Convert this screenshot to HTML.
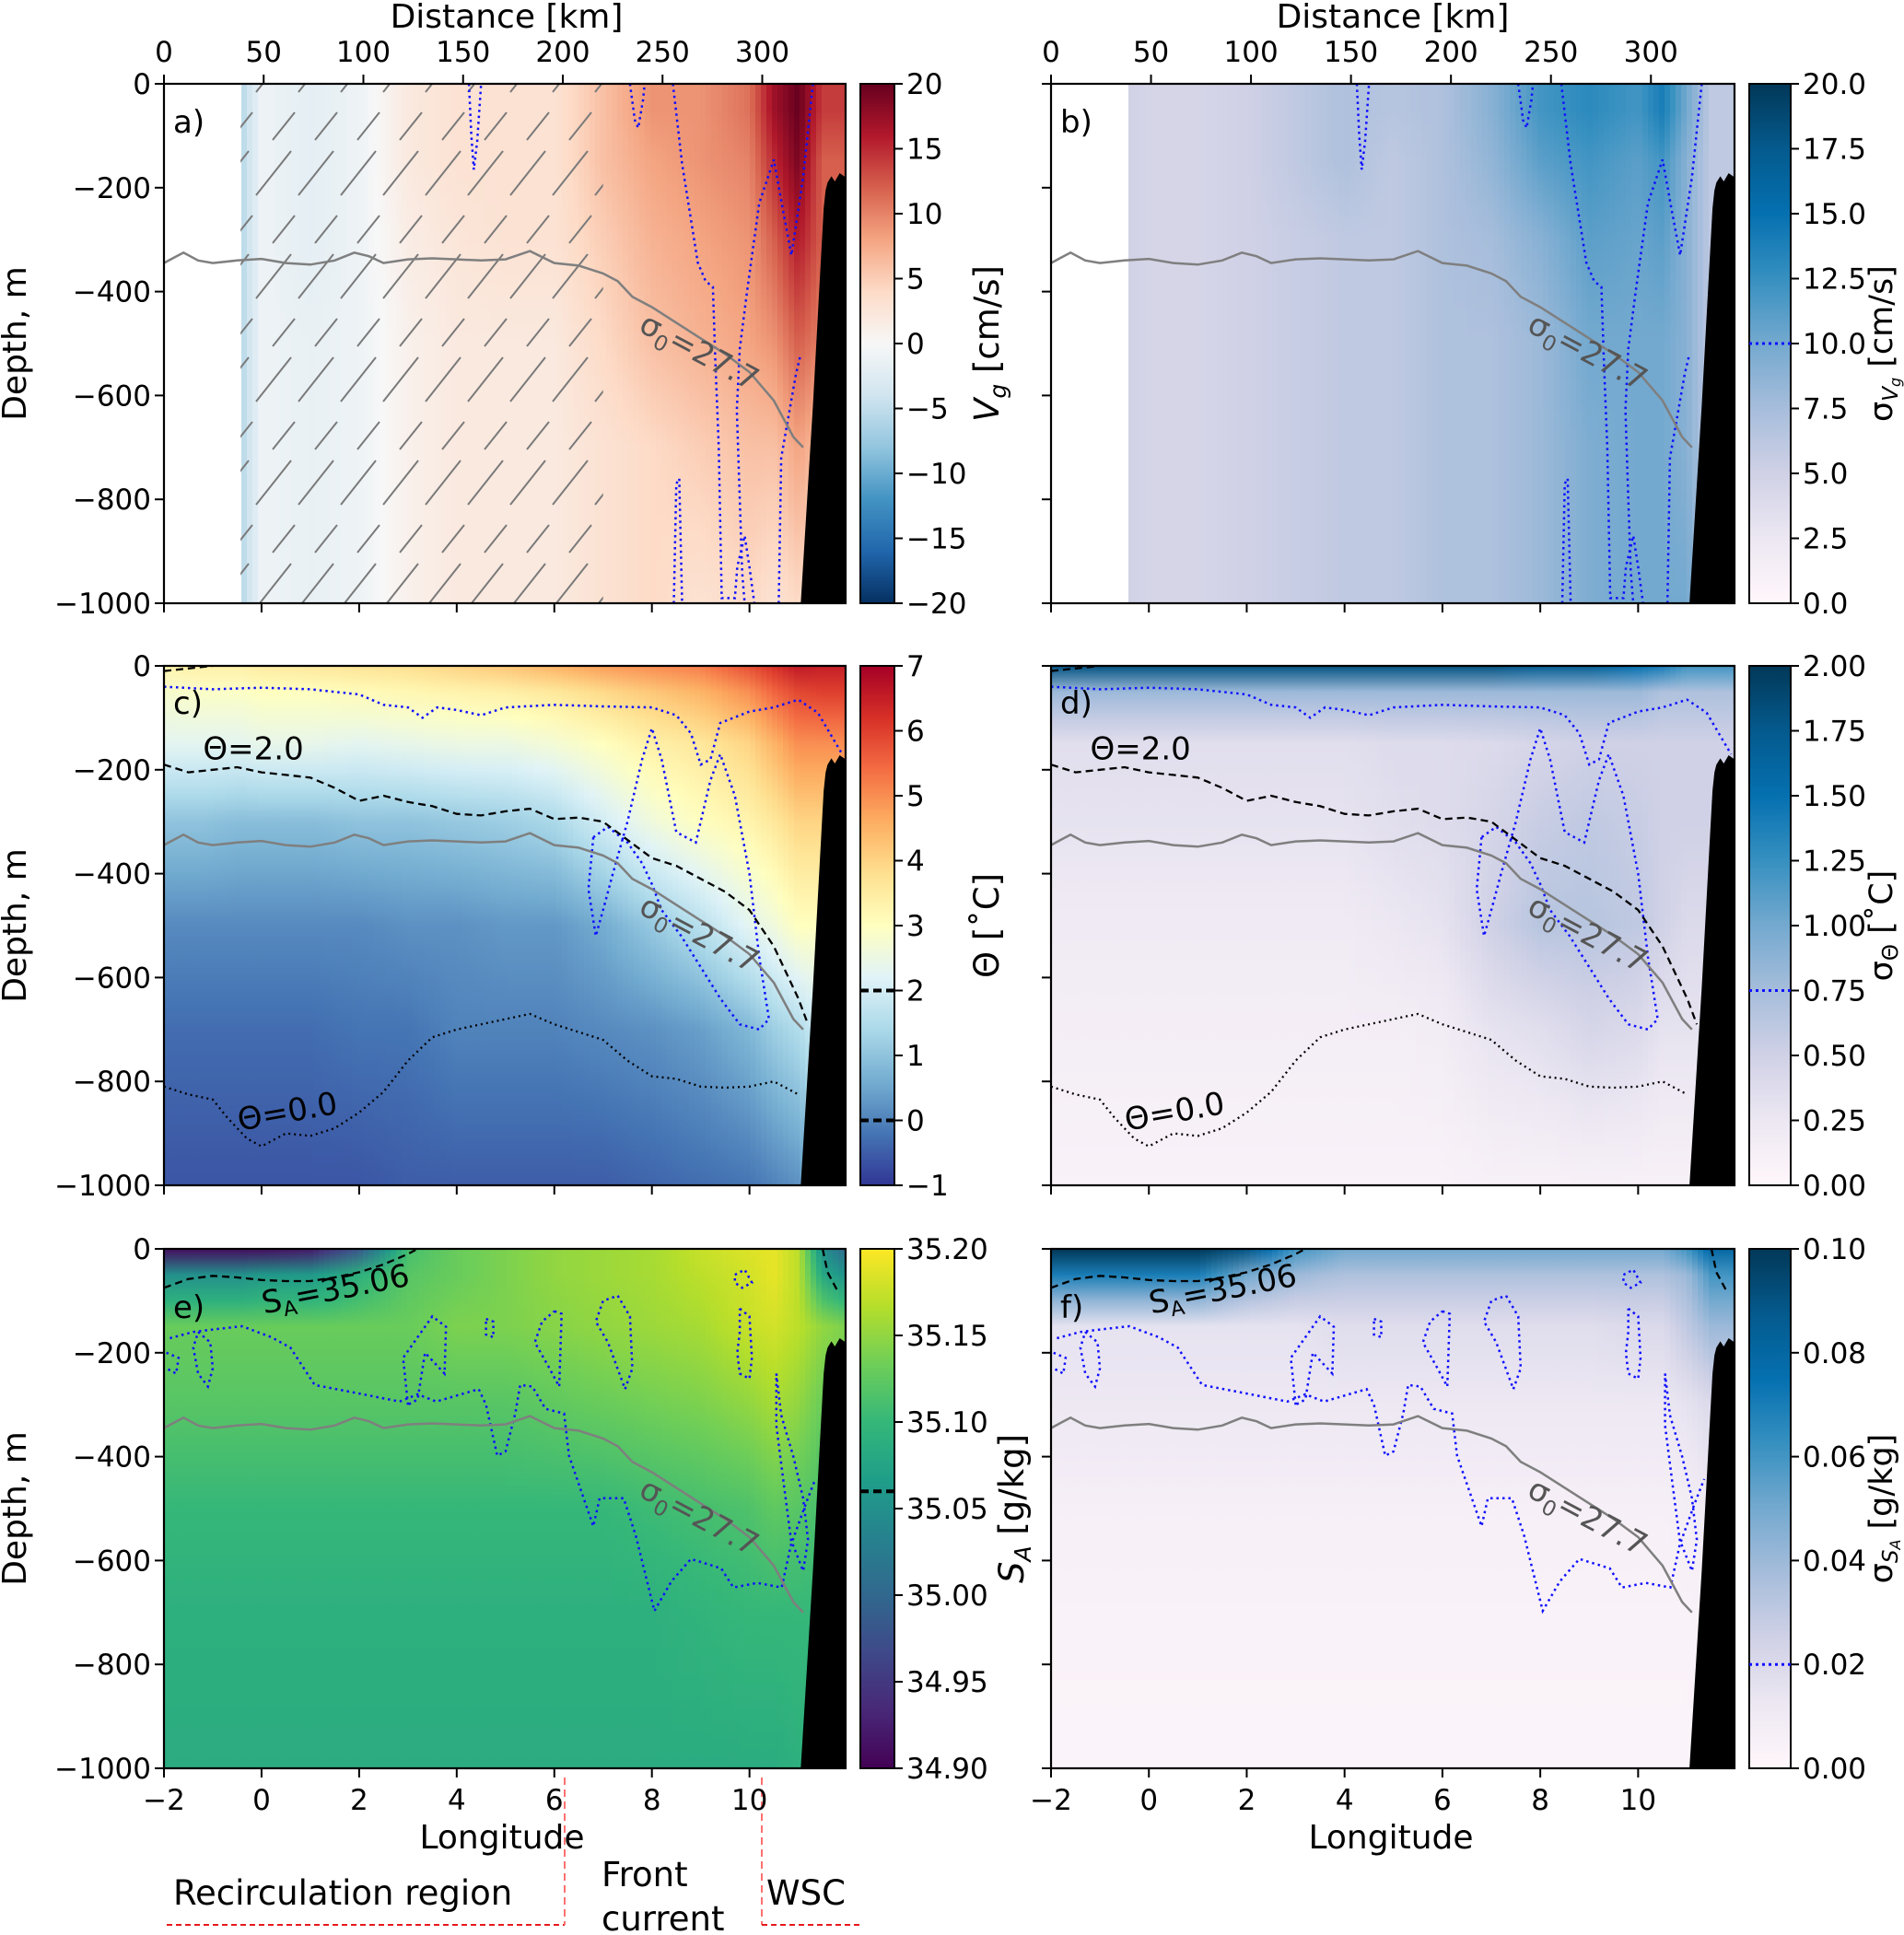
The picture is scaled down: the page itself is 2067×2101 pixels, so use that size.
<!DOCTYPE html>
<html><head><meta charset="utf-8">
<style>
html,body{margin:0;padding:0;background:#fff;}
svg{display:block;font-family:"DejaVu Sans","Liberation Sans",sans-serif;}
</style></head>
<body>
<svg id="fig" xmlns="http://www.w3.org/2000/svg" width="2067" height="2101" viewBox="0 0 2067 2101">
<defs id="defs">
<pattern id="hatch" patternUnits="userSpaceOnUse" width="46" height="112">
<line x1="2" y1="100" x2="40" y2="52" stroke="#7a7a7a" stroke-width="2"/>
<line x1="20" y1="40" x2="44" y2="10" stroke="#7a7a7a" stroke-width="2"/>
</pattern>
</defs>
<text x="550" y="30" font-size="36" text-anchor="middle">Distance [km]</text>
<text x="1512" y="30" font-size="36" text-anchor="middle">Distance [km]</text>
<text x="545" y="2007" font-size="36" text-anchor="middle">Longitude</text>
<text x="1510" y="2007" font-size="36" text-anchor="middle">Longitude</text>
<g>
<text x="188" y="2068" font-size="37">Recirculation region</text>
<text x="653" y="2048" font-size="37">Front</text>
<text x="653" y="2096" font-size="37">current</text>
<text x="832" y="2068" font-size="37">WSC</text>
<line x1="181" y1="2090" x2="613" y2="2090" stroke="#e8191d" stroke-width="2" stroke-dasharray="6,4"/>
<line x1="613" y1="1930" x2="613" y2="2090" stroke="#ff7070" stroke-width="2" stroke-dasharray="8,5"/>
<line x1="827" y1="1930" x2="827" y2="2090" stroke="#ff7070" stroke-width="2" stroke-dasharray="8,5"/>
<line x1="827" y1="2090" x2="935" y2="2090" stroke="#e8191d" stroke-width="2" stroke-dasharray="6,4"/>
</g>
</svg>
<script>
// ---------- data ----------
const L=[-2,-1.2,-0.43,0,1,2,3,4,5,6,7,8,9,10,10.5,11,11.5,12];
const D=[0,-50,-150,-300,-500,-700,-1000];
const vgField=[null,null,
[-6,-6,-6,-6,-6,-6,-6],[-1,-1,-1,-1,-1,-1,-1],[-2,-2,-2,-2,-1.5,-1.5,-1.5],[-1,-1,-1,-1,-1,-1,-1],
[2,2,2,1.5,1,1,1],[3,3,3,2.5,2,2,2],[3,3,3,3,2,2,2],[3,3,3,3,2,2,2],[6,6,6,5,4,3,3],
[9,9,8,7,6,4,4],[9,9,9,8,7,5,3],[11,11,10,9,8,6,4],[17,17,15,12,9,6,3],[20,20,19,16,12,8,4],
[14,14,12,12,10,6,3],[14,14,12,12,10,6,3]];
const sdVgField=[null,null,
[5,5,5,5,5,5,5],[4.5,4.5,4.5,4.5,4.5,4.5,4.5],[4.5,4.5,4.5,4.5,4.5,4.5,4.5],[5,5,5,5,5,5,5],
[6,6,6,5.5,5.5,5.5,5.5],[7,7,7,6,6,6,6],[6.5,6.5,6,6,6,6,6],[7,7,7,7,7,7,7],[9,9,8.5,7.5,7,7,7],
[12,12,11,9,8,8,8],[13,13,12,11,10,9.5,9.5],[12,12,11,10.5,10,10,10],[14,14,12,11,10,10,10],
[10,10,9,9,9,9,10],[6,6,6,6,6,6,6],[6,6,6,6,6,6,6]];
const thetaField=[
[3.3,2.8,2.3,1.0,0.1,-0.3,-0.6],[3.4,2.9,2.3,1.0,0.1,-0.3,-0.6],[3.4,2.9,2.3,0.9,0.1,-0.3,-0.6],
[3.5,3.0,2.4,0.9,0.1,-0.3,-0.6],[3.6,3.0,2.4,0.9,0.1,-0.3,-0.6],[3.7,3.1,2.3,1.0,0.1,-0.2,-0.6],
[3.8,3.2,2.4,1.0,0.2,-0.2,-0.5],[4.0,3.3,2.5,1.1,0.2,0.0,-0.5],[4.2,3.4,2.5,1.2,0.3,0.0,-0.5],
[4.5,3.6,2.7,1.4,0.3,0.0,-0.5],[4.8,3.9,3.0,2.0,0.6,0.1,-0.5],[5.0,4.2,3.4,2.6,1.1,0.2,-0.4],
[5.2,4.5,3.6,3.0,1.6,0.4,-0.3],[5.8,5.0,4.0,3.3,2.3,0.8,-0.2],[6.2,5.5,4.5,3.6,2.6,1.2,0.0],
[6.6,5.9,5.0,4.0,3.0,1.5,0.2],[6.5,6.0,5.0,4.0,3.0,2.0,1.0],[6.5,6.0,5.0,4.0,3.0,2.0,1.0]];
const sdThetaField=[
[1.8,0.8,0.35,0.3,0.2,0.15,0.08],[1.8,0.8,0.35,0.3,0.2,0.15,0.08],[1.8,0.8,0.35,0.3,0.2,0.15,0.08],
[1.8,0.8,0.35,0.3,0.2,0.15,0.08],[1.8,0.8,0.35,0.3,0.2,0.15,0.08],[1.8,0.8,0.35,0.3,0.2,0.15,0.08],
[1.8,0.8,0.35,0.3,0.2,0.15,0.08],[1.8,0.8,0.35,0.3,0.2,0.15,0.08],[1.8,0.8,0.38,0.35,0.25,0.15,0.08],
[1.8,0.8,0.38,0.38,0.3,0.18,0.08],[1.8,0.8,0.4,0.45,0.5,0.3,0.1],[1.7,0.8,0.45,0.55,0.65,0.35,0.1],
[1.7,0.8,0.5,0.6,0.65,0.45,0.1],[1.5,0.8,0.5,0.55,0.6,0.4,0.1],[1.4,0.7,0.5,0.5,0.5,0.3,0.1],
[1.2,0.7,0.5,0.5,0.4,0.3,0.1],[1.2,0.7,0.5,0.5,0.4,0.3,0.1],[1.2,0.7,0.5,0.5,0.4,0.3,0.1]];
const saField=[
[34.91,35.05,35.13,35.12,35.10,35.09,35.085],[34.91,35.05,35.13,35.12,35.10,35.09,35.085],
[34.91,35.05,35.13,35.12,35.10,35.09,35.085],[34.91,35.06,35.13,35.12,35.10,35.09,35.085],
[34.92,35.06,35.13,35.12,35.10,35.09,35.085],[34.98,35.09,35.13,35.12,35.10,35.09,35.085],
[35.11,35.12,35.13,35.12,35.10,35.09,35.085],[35.13,35.13,35.14,35.12,35.10,35.09,35.085],
[35.14,35.14,35.14,35.12,35.10,35.09,35.085],[35.15,35.15,35.145,35.125,35.10,35.09,35.085],
[35.155,35.155,35.15,35.13,35.10,35.09,35.085],[35.16,35.16,35.155,35.135,35.105,35.09,35.085],
[35.175,35.17,35.16,35.14,35.11,35.095,35.085],[35.185,35.18,35.175,35.15,35.115,35.10,35.085],
[35.19,35.19,35.18,35.16,35.125,35.10,35.085],[35.17,35.17,35.17,35.15,35.12,35.10,35.09],
[35.05,35.08,35.15,35.13,35.11,35.10,35.09],[35.0,35.05,35.14,35.13,35.11,35.10,35.09]];
const sdSaField=[
[0.1,0.07,0.015,0.012,0.006,0.004,0.003],[0.1,0.07,0.015,0.012,0.006,0.004,0.003],
[0.1,0.07,0.015,0.012,0.006,0.004,0.003],[0.1,0.07,0.015,0.012,0.006,0.004,0.003],
[0.1,0.07,0.015,0.012,0.006,0.004,0.003],[0.09,0.05,0.015,0.012,0.006,0.004,0.003],
[0.06,0.04,0.015,0.012,0.006,0.004,0.003],[0.05,0.035,0.018,0.012,0.006,0.004,0.003],
[0.05,0.035,0.018,0.012,0.006,0.004,0.003],[0.05,0.035,0.018,0.012,0.006,0.004,0.003],
[0.05,0.035,0.018,0.012,0.006,0.004,0.003],[0.05,0.035,0.018,0.012,0.006,0.004,0.003],
[0.05,0.035,0.018,0.012,0.006,0.004,0.003],[0.05,0.035,0.02,0.012,0.006,0.004,0.003],
[0.05,0.035,0.02,0.012,0.006,0.004,0.003],[0.06,0.04,0.03,0.015,0.008,0.004,0.003],
[0.08,0.06,0.04,0.02,0.01,0.005,0.003],[0.08,0.06,0.04,0.02,0.01,0.005,0.003]];
// contour lines [lon, depth]
const sigmaLine=[[-2,-345],[-1.8,-335],[-1.6,-325],[-1.3,-340],[-1,-345],[-0.5,-340],[0,-337],[0.5,-345],[1,-348],[1.5,-340],[1.9,-325],[2.2,-332],[2.5,-345],[3,-338],[3.5,-336],[4,-338],[4.5,-340],[5,-338],[5.5,-322],[6,-345],[6.5,-350],[7,-365],[7.3,-380],[7.6,-410],[8,-430],[8.5,-460],[9,-490],[9.5,-520],[10,-555],[10.5,-610],[10.9,-680],[11.1,-700]];
const theta2Line=[[-2,-190],[-1.5,-205],[-1,-200],[-0.5,-195],[0,-205],[0.5,-210],[1,-215],[1.5,-235],[2,-260],[2.5,-250],[3,-262],[3.5,-270],[4,-285],[4.5,-288],[5,-280],[5.5,-275],[6,-295],[6.5,-292],[7,-300],[7.5,-335],[8,-370],[8.5,-385],[9,-410],[9.5,-435],[10,-470],[10.5,-540],[11,-640],[11.2,-690]];
const theta0Line=[[-2,-810],[-1.5,-825],[-1,-835],[-0.7,-870],[-0.3,-910],[0,-925],[0.5,-900],[1,-905],[1.5,-890],[2,-860],[2.5,-820],[3,-760],[3.5,-715],[4,-700],[4.5,-690],[5,-680],[5.5,-670],[6,-690],[6.5,-705],[7,-720],[7.5,-760],[8,-790],[8.5,-795],[9,-810],[9.5,-812],[10,-810],[10.5,-800],[11,-825]];
const sa06Line=[[-2,-75],[-1.5,-58],[-1,-52],[-0.5,-55],[0,-60],[0.5,-62],[1,-62],[1.5,-55],[2,-45],[2.5,-30],[3,-10],[3.2,0]];
const sa06Right=[[11.5,0],[11.6,-45],[11.8,-80]];
const row1Blue=[
[[4.25,0],[4.3,-100],[4.35,-165],[4.42,-110],[4.5,0]],
[[7.55,0],[7.65,-70],[7.72,-85],[7.82,-30],[7.85,0]],
[[8.43,0],[8.62,-154],[8.94,-344],[9.1,-380],[9.25,-391],[9.3,-534],[9.37,-700],[9.43,-990],[9.7,-990],[9.75,-930],[9.9,-870],[10.0,-930],[10.1,-1000]],
[[11.3,0],[11.1,-180],[10.86,-330],[10.7,-250],[10.5,-146],[10.2,-230],[9.95,-400],[9.8,-510],[9.74,-628],[9.8,-800],[9.85,-940],[9.9,-1000]],
[[8.45,-1000],[8.5,-770],[8.56,-760],[8.62,-1000]],
[[10.6,-1000],[10.65,-720],[10.8,-640],[10.95,-560],[11.05,-520]]];
const row2Blue=[
[[-2,-40],[-1,-45],[0,-42],[1,-45],[2,-55],[2.5,-75],[3,-80],[3.3,-100],[3.6,-80],[4,-85],[4.5,-95],[5,-80],[6,-75],[7,-78],[8,-80],[8.5,-95],[8.8,-130],[9,-190],[9.2,-180],[9.4,-110],[10,-88],[10.5,-80],[11,-65],[11.4,-90],[11.9,-170]],
[[6.8,-330],[6.7,-430],[6.85,-520],[7.0,-470],[7.2,-400],[7.5,-300],[7.8,-180],[8.0,-120],[8.2,-180],[8.5,-320],[8.9,-340],[9.2,-220],[9.4,-170],[9.7,-250],[10.0,-400],[10.2,-560],[10.4,-680],[10.2,-700],[9.8,-690],[9.4,-640],[9.0,-580],[8.6,-520],[8.2,-470],[8.0,-420],[7.8,-380],[7.5,-340],[7.1,-310],[6.8,-330]]];
const row3Blue=[
[[-1.88,-172],[-1.4,-160],[-0.89,-154],[-0.4,-149],[0.2,-170],[0.59,-190],[1.09,-262],[2.08,-280],[2.83,-294],[3.2,-280],[3.58,-294],[4.45,-270],[4.6,-300],[4.83,-398],[5.0,-390],[5.2,-317],[5.3,-262],[5.55,-265],[5.82,-308],[6.2,-317],[6.3,-398],[6.8,-534],[6.93,-480],[7.42,-480],[7.67,-552],[8.05,-697],[8.4,-640],[8.8,-597],[9.42,-615],[9.67,-652],[10.16,-643],[10.66,-652],[10.85,-570],[11.16,-489],[11.35,-443]],
[[-1.3,-160],[-1.05,-180],[-1.0,-230],[-1.1,-265],[-1.3,-240],[-1.4,-190],[-1.3,-160]],
[[-1.95,-200],[-1.7,-210],[-1.75,-240],[-1.95,-230]],
[[3.0,-300],[2.9,-210],[3.2,-170],[3.5,-130],[3.78,-150],[3.75,-240],[3.55,-220],[3.35,-200],[3.2,-290],[3.0,-300]],
[[4.6,-135],[4.75,-140],[4.75,-170],[4.6,-165],[4.6,-135]],
[[6.0,-120],[6.15,-125],[6.1,-265],[5.9,-230],[5.6,-180],[5.75,-140],[6.0,-120]],
[[7.3,-90],[7.55,-130],[7.6,-230],[7.45,-270],[7.1,-180],[6.85,-140],[7.0,-100],[7.3,-90]],
[[9.7,-50],[9.9,-40],[10.05,-65],[9.85,-75],[9.7,-65],[9.7,-50]],
[[9.8,-115],[10.0,-130],[10.05,-210],[10.0,-250],[9.8,-240],[9.75,-200],[9.8,-160],[9.8,-115]],
[[10.55,-240],[10.65,-320],[10.9,-400],[11.1,-480],[11.2,-560],[11.1,-620],[10.85,-560],[10.7,-450],[10.55,-340],[10.55,-240]]];
const topo=[[11.05,-1000],[11.3,-620],[11.45,-360],[11.52,-240],[11.56,-205],[11.6,-190],[11.68,-178],[11.75,-188],[11.85,-172],[11.97,-180],[11.97,-1000]];
const depthTicks=[0,-200,-400,-600,-800,-1000];
const lonTicks=[-2,0,2,4,6,8,10];
const kmTicks=[0,50,100,150,200,250,300];
const cbTicksA=[-20,-15,-10,-5,0,5,10,15,20];
const cbTicksB=[0,2.5,5,7.5,10,12.5,15,17.5,20];
const cbTicksC=[-1,0,1,2,3,4,5,6,7];
const cbTicksD=[0,0.25,0.5,0.75,1,1.25,1.5,1.75,2];
const cbTicksE=[34.90,34.95,35.00,35.05,35.10,35.15,35.20];
const cbTicksF=[0,0.02,0.04,0.06,0.08,0.10];
// ---------- colormaps ----------
const RdBu=["#053061","#2166ac","#4393c3","#92c5de","#d1e5f0","#f7f7f7","#fddbc7","#f4a582","#d6604d","#b2182b","#67001f"];
const PuBu=["#fff7fb","#ece7f2","#d0d1e6","#a6bddb","#74a9cf","#3690c0","#0570b0","#045a8d","#023858"];
const RdYlBu=["#313695","#4575b4","#74add1","#abd9e9","#e0f3f8","#ffffbf","#fee090","#fdae61","#f46d43","#d73027","#a50026"];
const Viridis=["#440154","#482878","#3e4989","#31688e","#26828e","#1f9e89","#35b779","#6ece58","#b5de2b","#fde725"];
function hex(h){return [parseInt(h.slice(1,3),16),parseInt(h.slice(3,5),16),parseInt(h.slice(5,7),16)];}
function cmap(stops,t){t=Math.max(0,Math.min(1,t));const n=stops.length-1;const i=Math.min(n-1,Math.floor(t*n));const f=t*n-i;const a=hex(stops[i]),b=hex(stops[i+1]);return "rgb("+a.map((v,k)=>Math.round(v+(b[k]-v)*f)).join(",")+")";}
function fieldVal(grid,lon,d){
  let i=0;while(i<L.length-2&&lon>L[i+1])i++;
  const c0=grid[i],c1=grid[i+1];if(!c0||!c1)return null;
  const t=(lon-L[i])/(L[i+1]-L[i]);
  let j=0;while(j<D.length-2&&d<D[j+1])j++;
  const s=(d-D[j])/(D[j+1]-D[j]);
  const v0=c0[j]+(c0[j+1]-c0[j])*s,v1=c1[j]+(c1[j+1]-c1[j])*s;
  return v0+(v1-v0)*t;}
// ---------- panels ----------
const NS="http://www.w3.org/2000/svg";
const svg=document.getElementById('fig');const defs=document.getElementById('defs');
function mk(tag,attrs,parent){const e=document.createElementNS(NS,tag);for(const k in attrs)e.setAttribute(k,attrs[k]);(parent||svg).appendChild(e);return e;}
const rowsY=[91,723,1356];const H=564;
const panels=[
{id:'a',col:0,row:0,grid:vgField,cm:RdBu,vmin:-20,vmax:20,ticks:cbTicksA,fmt:v=>String(v),blue:row1Blue,label:'a)'},
{id:'b',col:1,row:0,grid:sdVgField,cm:PuBu,vmin:0,vmax:20,ticks:cbTicksB,fmt:v=>v.toFixed(1),blue:row1Blue,label:'b)',cbMark:{v:10,style:'blue'}},
{id:'c',col:0,row:1,grid:thetaField,cm:RdYlBu,vmin:-1,vmax:7,ticks:cbTicksC,fmt:v=>String(v),blue:row2Blue,label:'c)',cbMark:{v:[2,0],style:'black'}},
{id:'d',col:1,row:1,grid:sdThetaField,cm:PuBu,vmin:0,vmax:2,ticks:cbTicksD,fmt:v=>v.toFixed(2),blue:row2Blue,label:'d)',cbMark:{v:0.75,style:'blue'}},
{id:'e',col:0,row:2,grid:saField,cm:Viridis,vmin:34.9,vmax:35.2,ticks:cbTicksE,fmt:v=>v.toFixed(2),blue:row3Blue,label:'e)',cbMark:{v:35.06,style:'black'}},
{id:'f',col:1,row:2,grid:sdSaField,cm:PuBu,vmin:0,vmax:0.1,ticks:cbTicksF,fmt:v=>v.toFixed(2),blue:row3Blue,label:'f)',cbMark:{v:0.02,style:'blue'}}];
const colGeom=[{x0:178,x1:918,cb0:934,cb1:971},{x0:1141,x1:1883,cb0:1899,cb1:1944}];
function neg(s){return s.replace('-','\u2212');}
panels.forEach(p=>{
  const g=colGeom[p.col];const x0=g.x0,x1=g.x1,W=x1-x0,y0=rowsY[p.row];
  const xs=lon=>x0+(lon+2)*W/13.97;
  const ys=d=>y0+(-d)/1000*H;
  const pg=mk('g',{});
  
  
  const cp=mk('clipPath',{id:'clip'+p.id},defs);mk('rect',{x:x0,y:y0,width:W,height:H},cp);
  const field=mk('g',{'clip-path':'url(#clip'+p.id+')'},pg);
  
  
  const step=6;
  for(let x=x0;x<x1;x+=step){
    const lon=-2+((x+step/2)-x0)/W*13.97;
    if(fieldVal(p.grid,lon,0)===null)continue;
    const gid='gr'+p.id+x;
    const lg=mk('linearGradient',{id:gid,x1:0,y1:0,x2:0,y2:1},defs);
    for(let d=0;d>=-1000;d-=50){
      const v=fieldVal(p.grid,lon,d);
      mk('stop',{offset:(-d/1000),'stop-color':cmap(p.cm,(v-p.vmin)/(p.vmax-p.vmin))},lg);}
    const r=mk('rect',{x:x,y:y0,width:step+0.6,height:H,fill:'url(#'+gid+')'},field);
    
    
  }
  const ov=mk('g',{'clip-path':'url(#clip'+p.id+')'},pg);
  if(p.id==='a'){
    const h=mk('rect',{x:xs(-0.43),y:y0,width:xs(7.0)-xs(-0.43),height:H,fill:'url(#hatch)'},ov);
    
    }
  const pts=arr=>arr.map(q=>xs(q[0]).toFixed(1)+','+ys(q[1]).toFixed(1)).join(' ');
  p.blue.forEach(c=>{const l=mk('polyline',{points:pts(c),fill:'none',stroke:'#1010ff','stroke-width':2.5,'stroke-dasharray':'2.5,4'},ov);
    
    });
  const sl=mk('polyline',{points:pts(sigmaLine),fill:'none',stroke:'#7f7f7f','stroke-width':2.5},ov);
  
  
  const st=mk('text',{x:xs(7.7),y:ys(-475),'font-size':34,fill:'#555','transform':'rotate(28 '+xs(7.7)+' '+ys(-475)+')'},ov);
  
  
  st.innerHTML='σ<tspan font-size="23" dy="8">0</tspan><tspan dy="-8">=27.7</tspan>';
  if(p.row===1){
    const t2=mk('polyline',{points:pts(theta2Line),fill:'none',stroke:'#000','stroke-width':2.3,'stroke-dasharray':'8,5'},ov);
    
    
    const t0=mk('polyline',{points:pts(theta0Line),fill:'none',stroke:'#000','stroke-width':2.3,'stroke-dasharray':'2,4'},ov);
    
    
    const l2=mk('text',{x:xs(-1.2),y:ys(-180),'font-size':34},ov);l2.textContent='Θ=2.0';
    
    
    const l0=mk('text',{x:xs(-0.45),y:ys(-895),'font-size':34,transform:'rotate(-10 '+xs(-0.45)+' '+ys(-895)+')'},ov);l0.textContent='Θ=0.0';
    
    
    const tt=mk('polyline',{points:pts([[-2,-10],[-1.5,-5],[-1,0]]),fill:'none',stroke:'#000','stroke-width':2.3,'stroke-dasharray':'8,5'},ov);
    
    }
  if(p.row===2){
    [sa06Line,sa06Right].forEach(c=>{const s=mk('polyline',{points:pts(c),fill:'none',stroke:'#000','stroke-width':2.3,'stroke-dasharray':'8,5'},ov);
      
      });
    const sx=xs(0.05),sy=ys(-125);
    const s6=mk('text',{x:sx,y:sy,'font-size':34,transform:'rotate(-11 '+sx+' '+sy+')'},ov);
    
    
    s6.innerHTML='S<tspan font-size="22" dy="7">A</tspan><tspan dy="-7">=35.06</tspan>';}
  const tp=mk('polygon',{points:pts(topo),fill:'#000'},ov);
  
  
  const pl=mk('text',{x:x0+10,y:y0+(p.row===0?53:p.row===1?52:75),'font-size':34},pg);pl.textContent=p.label;
  
  
  const fr=mk('rect',{x:x0,y:y0,width:W,height:H,fill:'none',stroke:'#000','stroke-width':2.2},pg);
  
  
  depthTicks.forEach(d=>{const t=mk('line',{x1:x0-10,x2:x0,y1:ys(d),y2:ys(d),stroke:'#000','stroke-width':2},pg);
    
    
    if(p.col===0){const tl=mk('text',{x:x0-14,y:ys(d)+11,'font-size':31,'text-anchor':'end'},pg);tl.textContent=neg(String(d));
      
      }});
  lonTicks.forEach(lo=>{const t=mk('line',{x1:xs(lo),x2:xs(lo),y1:y0+H,y2:y0+H+10,stroke:'#000','stroke-width':2},pg);
    
    
    if(p.row===2){const tl=mk('text',{x:xs(lo),y:y0+H+45,'font-size':31,'text-anchor':'middle'},pg);tl.textContent=neg(String(lo));
      
      }});
  if(p.row===0){kmTicks.forEach(k=>{const xx=x0+k*W/341.8;
    const t=mk('line',{x1:xx,x2:xx,y1:y0-10,y2:y0,stroke:'#000','stroke-width':2},pg);
    
    
    const tl=mk('text',{x:xx,y:67,'font-size':31,'text-anchor':'middle'},pg);tl.textContent=String(k);
    
    });}
  if(p.col===0){const yl=mk('text',{x:0,y:0,'font-size':36,'text-anchor':'middle',transform:'translate(28 '+(y0+H/2)+') rotate(-90)'},pg);yl.textContent='Depth, m';
    
    }
  const cgid='cb'+p.id;const clg=mk('linearGradient',{id:cgid,x1:0,y1:1,x2:0,y2:0},defs);
  p.cm.forEach((c,i)=>mk('stop',{offset:i/(p.cm.length-1),'stop-color':c},clg));
  const cb=mk('rect',{x:g.cb0,y:y0,width:g.cb1-g.cb0,height:H,fill:'url(#'+cgid+')',stroke:'#000','stroke-width':2},pg);
  
  
  const cy=v=>y0+H-(v-p.vmin)/(p.vmax-p.vmin)*H;
  p.ticks.forEach(v=>{const t=mk('line',{x1:g.cb1,x2:g.cb1+9,y1:cy(v),y2:cy(v),stroke:'#000','stroke-width':2},pg);
    
    
    const tl=mk('text',{x:g.cb1+13,y:cy(v)+11,'font-size':31},pg);tl.textContent=neg(p.fmt(v));
    
    });
  if(p.cbMark){[].concat(p.cbMark.v).forEach(v=>{const m=mk('line',{x1:g.cb0,x2:g.cb1,y1:cy(v),y2:cy(v),stroke:p.cbMark.style==='blue'?'#1010ff':'#000','stroke-width':p.cbMark.style==='blue'?3:4,'stroke-dasharray':p.cbMark.style==='blue'?'3,4':'9,5'},pg);
    
    });}
  const lx=g.cb1+(p.col===0?(p.row===2?140:113):110),ly=y0+H/2;
  const cl=mk('text',{x:0,y:0,'font-size':(p.col===0?37:35),'text-anchor':'middle',transform:'translate('+lx+' '+ly+') rotate(-90)'},pg);
  
  
  const titles={a:'<tspan font-style="italic">V</tspan><tspan font-style="italic" font-size="25" dy="8">g</tspan><tspan dy="-8"> [cm/s]</tspan>',
    b:'σ<tspan font-style="italic" font-size="23" dy="6">V</tspan><tspan font-style="italic" font-size="16" dy="3">g</tspan><tspan dy="-9"> [cm/s]</tspan>',
    c:'Θ [˚C]',d:'σ<tspan font-size="23" dy="6">Θ</tspan><tspan dy="-6"> [˚C]</tspan>',
    e:'<tspan font-style="italic">S</tspan><tspan font-style="italic" font-size="25" dy="8">A</tspan><tspan dy="-8"> [g/kg]</tspan>',
    f:'σ<tspan font-style="italic" font-size="23" dy="6">S</tspan><tspan font-style="italic" font-size="16" dy="3">A</tspan><tspan dy="-9"> [g/kg]</tspan>'};
  cl.innerHTML=titles[p.id];
});
</script>
</body></html>
